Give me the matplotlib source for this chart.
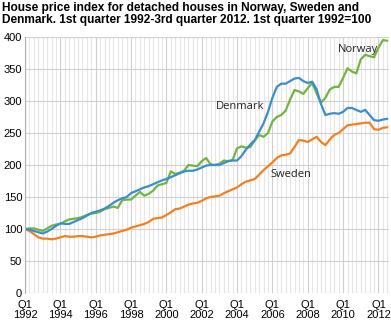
import matplotlib.pyplot as plt
import numpy as np

# quarterly index values, Q1 1992 .. Q3 2012 (83 quarters)
norway = [100, 101, 101, 99, 97, 101, 105, 107, 108, 112,
          115, 116, 117, 119, 122, 124, 125, 127, 131, 133,
          135, 133, 145, 146, 146, 152, 158, 152, 155, 160,
          168, 170, 172, 190, 186, 188, 191, 200, 199, 198,
          206, 211, 201, 200, 202, 207, 206, 208, 226, 229,
          227, 228, 238, 247, 244, 250, 268, 275, 278, 285,
          302, 317, 315, 311, 320, 328, 312, 297, 305, 318,
          322, 322, 336, 351, 346, 343, 365, 372, 370, 368,
          383, 395, 394]
denmark = [100, 99, 97, 95, 93, 96, 100, 105, 109, 108,
           108, 111, 114, 117, 121, 125, 127, 129, 132, 136,
           141, 145, 148, 150, 156, 159, 162, 165, 167, 170,
           173, 176, 178, 181, 184, 187, 190, 191, 191, 193,
           196, 199, 200, 200, 200, 203, 206, 207, 207, 214,
           224, 232, 239, 252, 265, 283, 305, 322, 327, 327,
           331, 335, 336, 331, 328, 330, 318, 295, 278, 280,
           281, 280, 283, 289, 289, 286, 283, 286, 278, 270,
           269, 271, 272]
sweden = [100, 97, 92, 87, 85, 85, 84, 85, 87, 89,
          88, 88, 89, 89, 88, 87, 88, 90, 91, 92,
          93, 95, 97, 99, 102, 104, 106, 108, 111, 116,
          117, 118, 122, 126, 131, 132, 135, 138, 140, 141,
          144, 148, 150, 151, 152, 156, 159, 162, 165, 170,
          174, 176, 178, 185, 192, 198, 204, 211, 215, 216,
          218, 228, 239, 238, 236, 240, 244, 236, 231, 240,
          247, 250, 256, 262, 263, 264, 265, 266, 266, 256,
          255, 258, 259]
years = list(range(1992, 2013, 2))
tick_labels = [f"Q1\n{y}" for y in years]

plt.rcParams['font.family'] = ['Liberation Sans', 'DejaVu Sans']

fig = plt.figure(figsize=(3.91, 3.21), dpi=100)
ax = fig.add_axes([0.064, 0.087, 0.931, 0.798])

q = np.arange(len(norway))
ax.plot(q, sweden, color="#f47f20", lw=1.6, solid_capstyle='round')
ax.plot(q, norway, color="#6fb640", lw=1.6, solid_capstyle='round')
ax.plot(q, denmark, color="#3a8dcf", lw=1.6, solid_capstyle='round')

ax.set_xlim(0, 82.4)
ax.set_ylim(0, 400)
ax.set_yticks(range(0, 401, 50))
ax.set_xticks(range(0, 81, 8))
ax.set_xticklabels(tick_labels)
ax.set_xticks(range(0, 83), minor=True)
ax.tick_params(axis='both', which='both', length=0, labelsize=8, pad=2)
ax.tick_params(axis='x', pad=5)
for lab in ax.get_xticklabels():
    lab.set_linespacing(0.95)

ax.grid(axis='x', which='minor', color="#e6e6e6", lw=0.8)
ax.grid(axis='x', which='major', color="#cfcfcf", lw=0.8)
ax.grid(axis='y', which='major', color="#d0d0d0", lw=0.8)
ax.set_axisbelow(True)
for s in ['top', 'right', 'bottom']:
    ax.spines[s].set_visible(False)
ax.spines['left'].set_color("#b0b0b0")

lab_font = dict(fontsize=8, color="#222222", family=['Open Sans', 'DejaVu Sans'])
ax.text(70.8, 377, "Norway", **lab_font)
ax.text(43.3, 287, "Denmark", **lab_font)
ax.text(55.5, 182, "Sweden", **lab_font)

fig.text(0.006, 0.995, "House price index for detached houses in Norway, Sweden and\n"
         "Denmark. 1st quarter 1992-3rd quarter 2012. 1st quarter 1992=100",
         fontsize=8.6, fontweight='bold', va='top', ha='left', linespacing=1.05)

fig.savefig("out.png", dpi=100)
